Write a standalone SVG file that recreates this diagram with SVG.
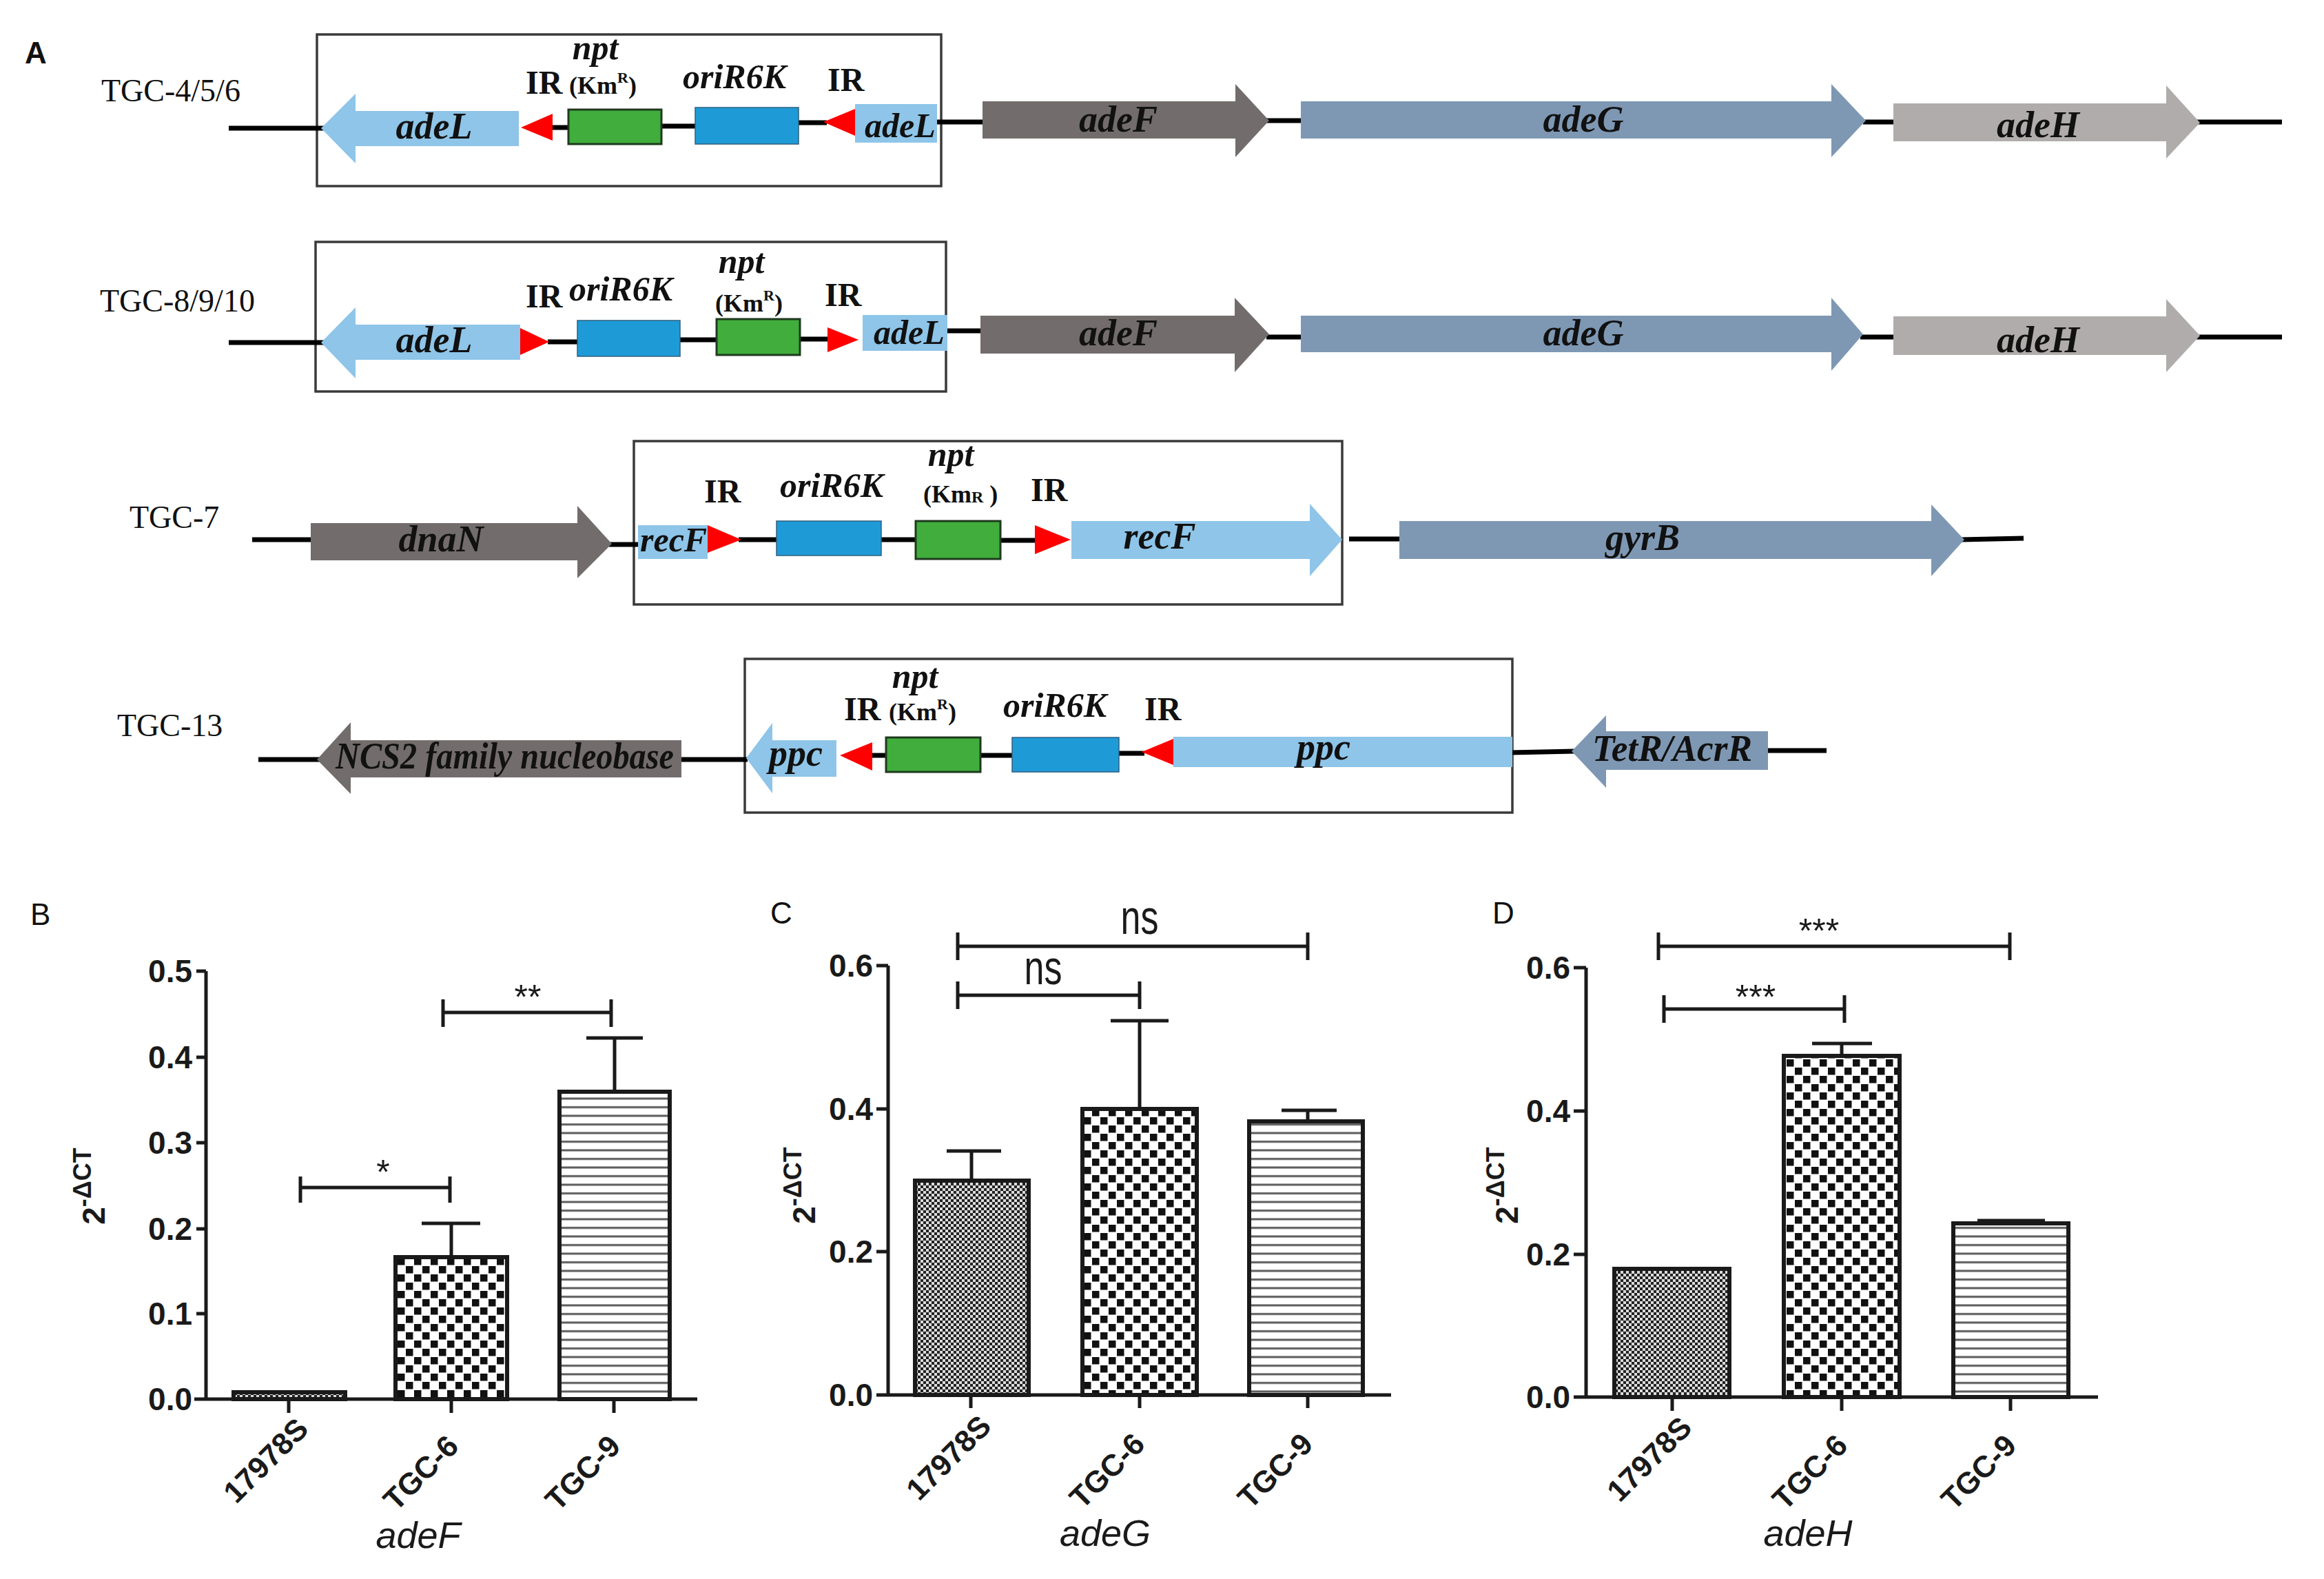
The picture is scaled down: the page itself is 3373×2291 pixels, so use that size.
<svg xmlns="http://www.w3.org/2000/svg" width="3373" height="2291" viewBox="0 0 3373 2291">
<style>
.lbl{font-family:'Liberation Serif',serif;font-size:46px;fill:#111}
.gene{font-family:'Liberation Serif',serif;font-style:italic;font-weight:bold;font-size:54px;fill:#111}
.gs{font-family:'Liberation Serif',serif;font-style:italic;font-weight:bold;font-size:50px;fill:#111}
.ir{font-family:'Liberation Serif',serif;font-weight:bold;font-size:48px;fill:#111}
.km{font-family:'Liberation Serif',serif;font-weight:bold;font-size:36px;fill:#111}
.it{font-family:'Liberation Serif',serif;font-style:italic;font-weight:bold;font-size:50px;fill:#111}
.bb{stroke:#000;stroke-width:7;fill:none}
.box{fill:none;stroke:#3a3a3a;stroke-width:3.5}
.lb{fill:#8ec5e8}.dg{fill:#736c6c}.bgr{fill:#7e98b4}.lg{fill:#b0acac}
.gr{fill:#40ad3c;stroke:#1f3a1f;stroke-width:3}
.bl{fill:#1e9bd7;stroke:#2f5f80;stroke-width:1.5}
.red{fill:#ff0000}
.pan{font-family:'Liberation Sans',sans-serif;font-size:44px;fill:#111}
.ax{stroke:#1a1a1a;stroke-width:5;fill:none}
.bar{stroke:#1a1a1a;stroke-width:6}
.num{font-family:'Liberation Sans',sans-serif;font-weight:bold;font-size:46px;text-anchor:end;fill:#1a1a1a}
.xt{font-family:'Liberation Sans',sans-serif;font-weight:bold;font-size:44px;text-anchor:end;fill:#1a1a1a}
.xl{font-family:'Liberation Sans',sans-serif;font-style:italic;font-size:54px;text-anchor:middle;fill:#1a1a1a}
.yl{font-family:'Liberation Sans',sans-serif;font-weight:bold;font-size:46px;text-anchor:middle;fill:#1a1a1a}
.sig{font-family:'Liberation Sans',sans-serif;font-size:50px;text-anchor:middle;fill:#1a1a1a}
.ns{font-family:'Liberation Sans',sans-serif;font-size:52px;text-anchor:middle;fill:#1a1a1a}
</style>
<defs>
<pattern id="fine" width="8" height="8" patternUnits="userSpaceOnUse">
<rect width="8" height="8" fill="#dcdcdc"/>
<rect x="0" y="0" width="4" height="4" fill="#222"/>
<rect x="4" y="4" width="4" height="4" fill="#222"/>
</pattern>
<pattern id="coarse" width="24" height="24" patternUnits="userSpaceOnUse">
<rect width="24" height="24" fill="#fff"/>
<rect x="1" y="1" width="10.5" height="10.5" fill="#111"/>
<rect x="13" y="13" width="10.5" height="10.5" fill="#111"/>
</pattern>
<pattern id="hline" width="12.5" height="12.5" patternUnits="userSpaceOnUse">
<rect width="12.5" height="12.5" fill="#fff"/>
<rect x="0" y="5" width="12.5" height="3" fill="#5a5a5a"/>
</pattern>
</defs>

<text class="pan" x="36" y="92" font-size="44" font-weight="bold">A</text>

<!-- Row 1 -->
<g id="row1">
<text class="lbl" x="147" y="147">TGC-4/5/6</text>
<rect class="box" x="460" y="50" width="906" height="220"/>
<line class="bb" x1="332" y1="186" x2="470" y2="186"/>
<line class="bb" x1="790" y1="185" x2="830" y2="185"/>
<line class="bb" x1="955" y1="183" x2="1012" y2="183"/>
<line class="bb" x1="1155" y1="178" x2="1200" y2="178"/>
<line class="bb" x1="1356" y1="177" x2="1430" y2="177"/>
<line class="bb" x1="1838" y1="175" x2="1892" y2="175"/>
<line class="bb" x1="2704" y1="177" x2="2752" y2="177"/>
<line class="bb" x1="3188" y1="177" x2="3312" y2="177"/>
<polygon class="lb" points="466,186 516,136 516,161 753,161 753,212 516,212 516,237"/>
<text class="gene" x="630" y="201" text-anchor="middle">adeL</text>
<polygon class="red" points="756,185 802,165 802,204"/>
<rect class="gr" x="825" y="159" width="135" height="50"/>
<rect class="bl" x="1009" y="156" width="150" height="53"/>
<polygon class="red" points="1195,177 1241,158 1241,197"/>
<rect class="lb" x="1241" y="151" width="119" height="56"/>
<text class="gs" x="1255" y="199">adeL</text>
<text class="it" x="864" y="86" text-anchor="middle" font-size="52">npt</text>
<text class="ir" x="763" y="136">IR</text>
<text class="km" x="826" y="136">(Km<tspan font-size="22" dy="-16">R</tspan><tspan dy="16">)</tspan></text>
<text class="it" x="991" y="128">oriR6K</text>
<text class="ir" x="1201" y="132">IR</text>
<polygon class="dg" points="1426,147 1793,147 1793,122 1842,175 1793,228 1793,201 1426,201"/>
<text class="gene" x="1623" y="191" text-anchor="middle">adeF</text>
<polygon class="bgr" points="1888,147 2658,147 2658,122 2708,175 2658,228 2658,201 1888,201"/>
<text class="gene" x="2298" y="191" text-anchor="middle">adeG</text>
<polygon class="lg" points="2748,150 3144,150 3144,124 3193,178 3144,230 3144,205 2748,205"/>
<text class="gene" x="2958" y="199" text-anchor="middle">adeH</text>
</g>

<!-- Row 2 -->
<g id="row2">
<text class="lbl" x="145" y="452">TGC-8/9/10</text>
<rect class="box" x="458" y="351" width="915" height="217"/>
<line class="bb" x1="332" y1="497" x2="470" y2="497"/>
<line class="bb" x1="795" y1="496" x2="842" y2="496"/>
<line class="bb" x1="983" y1="493" x2="1044" y2="493"/>
<line class="bb" x1="1157" y1="492" x2="1205" y2="492"/>
<line class="bb" x1="1370" y1="480" x2="1427" y2="480"/>
<line class="bb" x1="1838" y1="489" x2="1892" y2="489"/>
<line class="bb" x1="2700" y1="489" x2="2752" y2="489"/>
<line class="bb" x1="3188" y1="489" x2="3312" y2="489"/>
<polygon class="lb" points="466,497 516,446 516,471 755,471 755,522 516,522 516,549"/>
<text class="gene" x="630" y="511" text-anchor="middle">adeL</text>
<polygon class="red" points="755,476 797,496 755,515"/>
<rect class="bl" x="838" y="465" width="149" height="52"/>
<rect class="gr" x="1040" y="463" width="121" height="52"/>
<polygon class="red" points="1201,475 1246,493 1201,511"/>
<rect class="lb" x="1252" y="457" width="123" height="52"/>
<text class="gs" x="1268" y="499">adeL</text>
<text class="ir" x="763" y="446">IR</text>
<text class="it" x="826" y="436">oriR6K</text>
<text class="it" x="1076" y="396" text-anchor="middle" font-size="52">npt</text>
<text class="km" x="1038" y="452">(Km<tspan font-size="22" dy="-16">R</tspan><tspan dy="16">)</tspan></text>
<text class="ir" x="1197" y="444">IR</text>
<polygon class="dg" points="1423,458 1792,458 1792,432 1842,485 1792,540 1792,513 1423,513"/>
<text class="gene" x="1623" y="501" text-anchor="middle">adeF</text>
<polygon class="bgr" points="1888,458 2658,458 2658,432 2704,485 2658,538 2658,511 1888,511"/>
<text class="gene" x="2298" y="501" text-anchor="middle">adeG</text>
<polygon class="lg" points="2748,459 3144,459 3144,434 3193,487 3144,540 3144,515 2748,515"/>
<text class="gene" x="2958" y="511" text-anchor="middle">adeH</text>
</g>

<!-- Row 3 -->
<g id="row3">
<text class="lbl" x="188" y="766">TGC-7</text>
<rect class="box" x="920" y="640" width="1028" height="237"/>
<line class="bb" x1="366" y1="783" x2="455" y2="783"/>
<line class="bb" x1="884" y1="790" x2="930" y2="790"/>
<line class="bb" x1="1072" y1="783" x2="1131" y2="783"/>
<line class="bb" x1="1275" y1="783" x2="1333" y2="783"/>
<line class="bb" x1="1448" y1="784" x2="1506" y2="784"/>
<line class="bb" x1="1958" y1="782" x2="2035" y2="782"/>
<line class="bb" x1="2846" y1="783" x2="2937" y2="781"/>
<polygon class="dg" points="451,759 838,759 838,734 888,789 838,839 838,813 451,813"/>
<text class="gene" x="640" y="800" text-anchor="middle">dnaN</text>
<rect class="lb" x="926" y="762" width="101" height="49"/>
<text class="gs" x="929" y="800">recF</text>
<polygon class="red" points="1027,762 1076,783 1027,802"/>
<rect class="bl" x="1127" y="756" width="152" height="50"/>
<rect class="gr" x="1329" y="756" width="123" height="55"/>
<polygon class="red" points="1502,762 1554,783 1502,804"/>
<polygon class="lb" points="1555,756 1901,756 1901,731 1948,783 1901,836 1901,811 1555,811"/>
<text class="gene" x="1683" y="796" text-anchor="middle">recF</text>
<text class="ir" x="1022" y="729">IR</text>
<text class="it" x="1132" y="721">oriR6K</text>
<text class="it" x="1380" y="676" text-anchor="middle" font-size="52">npt</text>
<text class="km" x="1340" y="729">(Km<tspan font-size="24">R</tspan> )</text>
<text class="ir" x="1496" y="727">IR</text>
<polygon class="bgr" points="2031,756 2803,756 2803,732 2851,783 2803,836 2803,811 2031,811"/>
<text class="gene" x="2384" y="798" text-anchor="middle">gyrB</text>
</g>

<!-- Row 4 -->
<g id="row4">
<text class="lbl" x="170" y="1068">TGC-13</text>
<rect class="box" x="1081" y="956" width="1114" height="223"/>
<line class="bb" x1="375" y1="1102" x2="464" y2="1102"/>
<line class="bb" x1="985" y1="1102" x2="1085" y2="1102"/>
<line class="bb" x1="1262" y1="1096" x2="1290" y2="1096"/>
<line class="bb" x1="1419" y1="1096" x2="1473" y2="1096"/>
<line class="bb" x1="1620" y1="1093" x2="1661" y2="1093"/>
<line class="bb" x1="2191" y1="1092" x2="2285" y2="1090"/>
<line class="bb" x1="2562" y1="1089" x2="2651" y2="1089"/>
<polygon class="dg" points="460,1102 509,1048 509,1074 989,1074 989,1128 509,1128 509,1152"/>
<text class="gene" x="487" y="1115" font-size="50" textLength="491" lengthAdjust="spacingAndGlyphs">NCS2 family nucleobase</text>
<polygon class="lb" points="1083,1100 1121,1049 1121,1074 1214,1074 1214,1127 1121,1127 1121,1151"/>
<text class="gene" x="1116" y="1111">ppc</text>
<polygon class="red" points="1219,1096 1266,1077 1266,1118"/>
<rect class="gr" x="1286" y="1070" width="137" height="50"/>
<rect class="bl" x="1469" y="1070" width="155" height="50"/>
<polygon class="red" points="1657,1091 1703,1072 1703,1110"/>
<rect class="lb" x="1703" y="1069" width="492" height="44"/>
<text class="gene" x="1921" y="1102" text-anchor="middle">ppc</text>
<text class="it" x="1328" y="998" text-anchor="middle" font-size="52">npt</text>
<text class="ir" x="1225" y="1045">IR</text>
<text class="km" x="1290" y="1045">(Km<tspan font-size="22" dy="-16">R</tspan><tspan dy="16">)</tspan></text>
<text class="it" x="1456" y="1040">oriR6K</text>
<text class="ir" x="1661" y="1045">IR</text>
<polygon class="bgr" points="2281,1090 2331,1038 2331,1061 2566,1061 2566,1117 2331,1117 2331,1143"/>
<text class="gene" x="2311" y="1104" textLength="232" lengthAdjust="spacingAndGlyphs">TetR/AcrR</text>
</g>

<!-- Panel B -->
<g id="panelB">
<text class="pan" x="44" y="1342">B</text>
<text class="yl" transform="translate(152,1721) rotate(-90)">2<tspan font-size="36" dy="-20">-ΔCT</tspan></text>
<rect class="bar" x="339" y="2020" width="162" height="10" fill="url(#fine)"/>
<rect class="bar" x="574" y="1824" width="162" height="206" fill="url(#coarse)"/>
<rect class="bar" x="812" y="1584" width="160" height="446" fill="url(#hline)"/>
<path class="ax" d="M655,1824V1775M612,1775H697M892,1584V1506M851,1506H933"/>
<path class="ax" d="M299,1409V2030M282,2030H1012M285,1409H299M285,1534H299M285,1658H299M285,1783H299M285,1906H299M419,2030V2050M655,2030V2050M891,2030V2050"/>
<text class="num" x="279" y="1425">0.5</text>
<text class="num" x="279" y="1550">0.4</text>
<text class="num" x="279" y="1674">0.3</text>
<text class="num" x="279" y="1799">0.2</text>
<text class="num" x="279" y="1922">0.1</text>
<text class="num" x="279" y="2046">0.0</text>
<text class="xt" transform="translate(450,2076) rotate(-45)">17978S</text>
<text class="xt" transform="translate(668,2101) rotate(-45)">TGC-6</text>
<text class="xt" transform="translate(903,2101) rotate(-45)">TGC-9</text>
<text class="xl" x="607" y="2246">adeF</text>
<path class="ax" d="M436,1723H653M436,1707V1745M653,1707V1745M643,1469H887M643,1450V1490M887,1450V1490"/>
<text class="sig" x="556" y="1718">*</text>
<text class="sig" x="766" y="1464">**</text>
</g>

<!-- Panel C -->
<g id="panelC">
<text class="pan" x="1118" y="1340">C</text>
<text class="yl" transform="translate(1183,1720) rotate(-90)">2<tspan font-size="36" dy="-20">-ΔCT</tspan></text>
<rect class="bar" x="1328" y="1713" width="165" height="311" fill="url(#fine)"/>
<rect class="bar" x="1571" y="1609" width="166" height="415" fill="url(#coarse)"/>
<rect class="bar" x="1813" y="1627" width="165" height="397" fill="url(#hline)"/>
<path class="ax" d="M1410,1713V1670M1374,1670H1453M1654,1609V1481M1612,1481H1696M1898,1627V1611M1860,1611H1940"/>
<path class="ax" d="M1289,1401V2024M1272,2024H2019M1272,1401H1289M1272,1609H1289M1272,1816H1289M1409,2024V2043M1654,2024V2043M1898,2024V2043"/>
<text class="num" x="1267" y="1417">0.6</text>
<text class="num" x="1267" y="1625">0.4</text>
<text class="num" x="1267" y="1832">0.2</text>
<text class="num" x="1267" y="2040">0.0</text>
<text class="xt" transform="translate(1441,2072) rotate(-45)">17978S</text>
<text class="xt" transform="translate(1664,2098) rotate(-45)">TGC-6</text>
<text class="xt" transform="translate(1908,2098) rotate(-45)">TGC-9</text>
<text class="xl" x="1604" y="2243">adeG</text>
<path class="ax" d="M1390,1373H1898M1390,1353V1393M1898,1353V1393M1390,1444H1654M1390,1424V1464M1654,1424V1464"/>
<text class="ns" transform="translate(1654,1355) scale(1,1.35)">ns</text>
<text class="ns" transform="translate(1514,1428) scale(1,1.35)">ns</text>
</g>

<!-- Panel D -->
<g id="panelD">
<text class="pan" x="2166" y="1340">D</text>
<text class="yl" transform="translate(2203,1720) rotate(-90)">2<tspan font-size="36" dy="-20">-ΔCT</tspan></text>
<rect class="bar" x="2343" y="1841" width="167" height="186" fill="url(#fine)"/>
<rect class="bar" x="2589" y="1532" width="168" height="495" fill="url(#coarse)"/>
<rect class="bar" x="2835" y="1775" width="167" height="252" fill="url(#hline)"/>
<path class="ax" d="M2673,1532V1514M2630,1514H2717M2870,1771H2968"/>
<path class="ax" d="M2302,1404V2027M2284,2027H3045M2284,1404H2302M2284,1612H2302M2284,1820H2302M2427,2027V2047M2673,2027V2047M2918,2027V2047"/>
<text class="num" x="2279" y="1420">0.6</text>
<text class="num" x="2279" y="1628">0.4</text>
<text class="num" x="2279" y="1836">0.2</text>
<text class="num" x="2279" y="2043">0.0</text>
<text class="xt" transform="translate(2458,2074) rotate(-45)">17978S</text>
<text class="xt" transform="translate(2684,2100) rotate(-45)">TGC-6</text>
<text class="xt" transform="translate(2929,2100) rotate(-45)">TGC-9</text>
<text class="xl" x="2624" y="2243">adeH</text>
<path class="ax" d="M2407,1373H2917M2407,1353V1393M2917,1353V1393M2415,1464H2677M2415,1444V1484M2677,1444V1484"/>
<text class="sig" x="2640" y="1368">***</text>
<text class="sig" x="2548" y="1464">***</text>
</g>
</svg>
